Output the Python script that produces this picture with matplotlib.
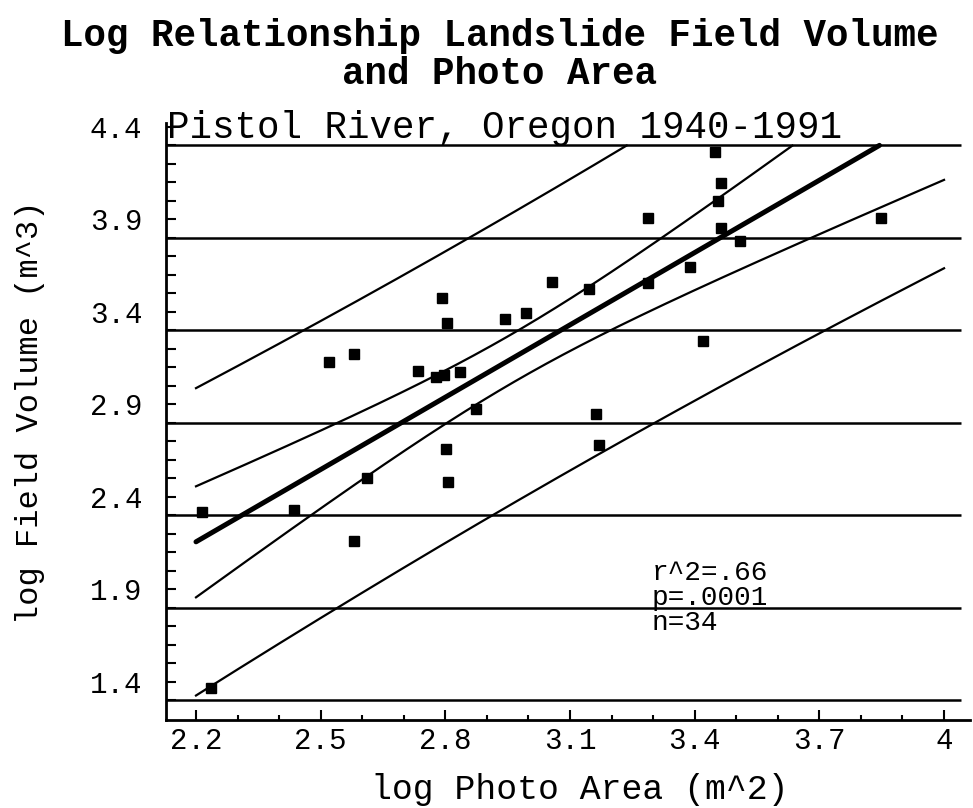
import matplotlib
matplotlib.use("Agg")
import matplotlib.pyplot as plt
import numpy as np

plt.rcParams['font.family'] = ['Liberation Mono', 'DejaVu Sans Mono']

# data points (log photo area, log field volume)
photo_area = [2.214, 2.236, 2.436, 2.520, 2.579, 2.580, 2.611, 2.734, 2.777, 2.796,
              2.835, 2.801, 2.806, 2.873, 2.793, 2.803, 2.944, 2.994, 3.056, 3.163,
              3.169, 3.146, 3.288, 3.287, 3.450, 3.463, 3.455, 3.463, 3.509, 3.389,
              3.419, 3.848]
field_volume = [2.319, 1.365, 2.329, 3.130, 3.172, 2.163, 2.500, 3.082, 3.049, 3.058,
                3.076, 2.657, 2.482, 2.873, 3.473, 3.338, 3.359, 3.392, 3.563, 2.848,
                2.680, 3.522, 3.909, 3.554, 4.265, 4.098, 3.999, 3.851, 3.784, 3.644,
                3.244, 3.909]

# regression line and band parameters
fit_intercept = -0.710
fit_slope = 1.303
x_mean = 2.963
conf_a = 0.0176
conf_b = 0.1244
pred_extra = 0.60
fit_range = (2.2, 4.0)
y_cap = 4.3

x_ticks = [2.2, 2.5, 2.8, 3.1, 3.4, 3.7, 4.0]
x_tick_labels = ['2.2', '2.5', '2.8', '3.1', '3.4', '3.7', '4']
y_ticks = [1.4, 1.9, 2.4, 2.9, 3.4, 3.9, 4.4]
h_lines = [1.3, 1.8, 2.3, 2.8, 3.3, 3.8, 4.3]

fig = plt.figure(figsize=(9.73, 8.08), dpi=100)
ax = fig.add_axes([0.1706, 0.1089, 0.8263, 0.7389])

ax.hlines(h_lines, 2.1278, 4.04, colors='black', lw=1.8)

xs = np.linspace(fit_range[0], fit_range[1], 800)
yfit = fit_intercept + fit_slope * xs
conf = np.sqrt(conf_a + conf_b * (xs - x_mean) ** 2)
pred = np.sqrt(pred_extra + conf_a + conf_b * (xs - x_mean) ** 2)

def capped(y):
    return np.where(y > y_cap, np.nan, y)

for band in (yfit + conf, yfit - conf, yfit + pred, yfit - pred):
    ax.plot(xs, capped(band), color='black', lw=1.6)
ax.plot(xs, capped(yfit), color='black', lw=3.6, solid_capstyle='round')

ax.plot(photo_area, field_volume, 's', color='black', ms=6.5)

ax.set_xlim(2.1278, 4.0624)
ax.set_ylim(1.1935, 4.4205)

ax.spines['top'].set_visible(False)
ax.spines['right'].set_visible(False)
ax.spines['left'].set_linewidth(2)
ax.spines['bottom'].set_linewidth(2)

ax.set_xticks(x_ticks)
ax.set_xticklabels(x_tick_labels)
ax.set_xticks(np.arange(2.2, 4.05, 0.1), minor=True)
ax.set_yticks(y_ticks)
ax.set_yticklabels([f'{v:.1f}' for v in y_ticks])
ax.set_yticks(np.arange(1.3, 4.45, 0.1), minor=True)

ax.tick_params(axis='x', which='major', direction='in', length=7, width=1.5,
               labelsize=21, pad=5)
ax.tick_params(axis='x', which='minor', direction='in', length=3.5, width=1.5)
ax.tick_params(axis='y', which='both', direction='in', length=7, width=1.5,
               labelsize=21, pad=17)

ax.text(3.296, 2.06, 'r^2=.66\np=.0001\nn=34', fontsize=20, va='top', ha='left',
        linespacing=0.95)

fig.text(167 / 973, 1 - 138 / 808, 'Pistol River, Oregon 1940-1991', fontsize=27,
         ha='left', va='baseline')
fig.text(500 / 973, 1 - 55 / 808, 'Log Relationship Landslide Field Volume\nand Photo Area',
         fontsize=27, fontweight='bold', ha='center', va='center', linespacing=1.08)
fig.text(580 / 973, 1 - 799 / 808, 'log Photo Area (m^2)', fontsize=25,
         ha='center', va='baseline')
fig.text(30 / 973, 1 - 412 / 808, 'log Field Volume (m^3)', fontsize=23,
         rotation=90, ha='center', va='center')

fig.savefig('out.png', dpi=100)
